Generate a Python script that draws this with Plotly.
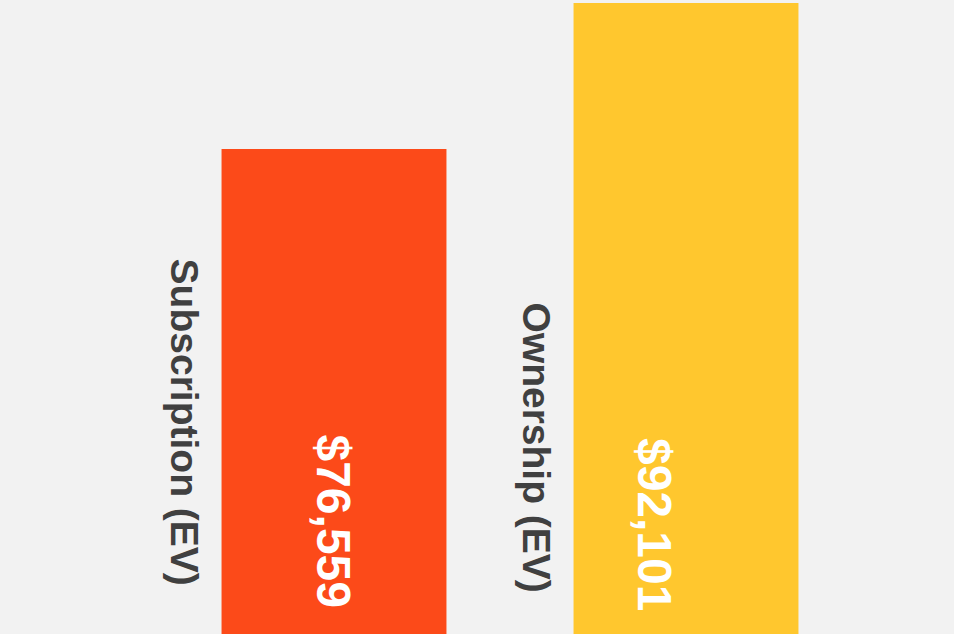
import plotly.graph_objects as go

categories = ["Subscription (EV)", "Ownership (EV)"]
values = [76559, 92101]
colors = ["#FC4A19", "#FFC72E"]
value_labels = [f"${v:,}" for v in values]

fig = go.Figure()
fig.add_trace(go.Bar(
    x=[0, 1], y=values,
    marker=dict(color=colors, line=dict(width=0)),
    width=0.639,
    hoverinfo="skip",
))

# vertical category labels (left of each bar)
cat_shift = [-150, -149.5]
cat_y = [0.335, 0.295]
# value labels inside bars
val_shift = [0, -32]
val_y = [0.1775, 0.172]

annotations = []
for i, c in enumerate(categories):
    annotations.append(dict(
        x=i, xref="x", xshift=cat_shift[i], y=cat_y[i], yref="paper",
        text=c, showarrow=False, textangle=90,
        xanchor="center", yanchor="middle",
        font=dict(family="Liberation Sans, Arial, sans-serif", size=39, color="#404040", weight="bold"),
    ))
    annotations.append(dict(
        x=i, xref="x", xshift=val_shift[i], y=val_y[i], yref="paper",
        text=value_labels[i], showarrow=False, textangle=90,
        xanchor="center", yanchor="middle",
        font=dict(family="Liberation Sans, Arial, sans-serif", size=48, color="#FFFFFF", weight="bold"),
    ))

s = 865 / 92101
Y1 = 92101 + 3 / s
Y0 = Y1 - 634 / s

fig.update_layout(
    width=954, height=634,
    margin=dict(l=158, r=92, t=0, b=0, pad=0),
    paper_bgcolor="#F2F2F2", plot_bgcolor="#F2F2F2",
    showlegend=False,
    annotations=annotations,
    xaxis=dict(range=[-0.5, 1.5], visible=False, fixedrange=True),
    yaxis=dict(range=[Y0, Y1], visible=False, fixedrange=True),
)

fig.write_html(
    "out.html",
    config={"displayModeBar": False},
    post_script="document.body.style.margin='0';document.body.style.overflow='hidden';document.body.style.background='#F2F2F2';",
)
